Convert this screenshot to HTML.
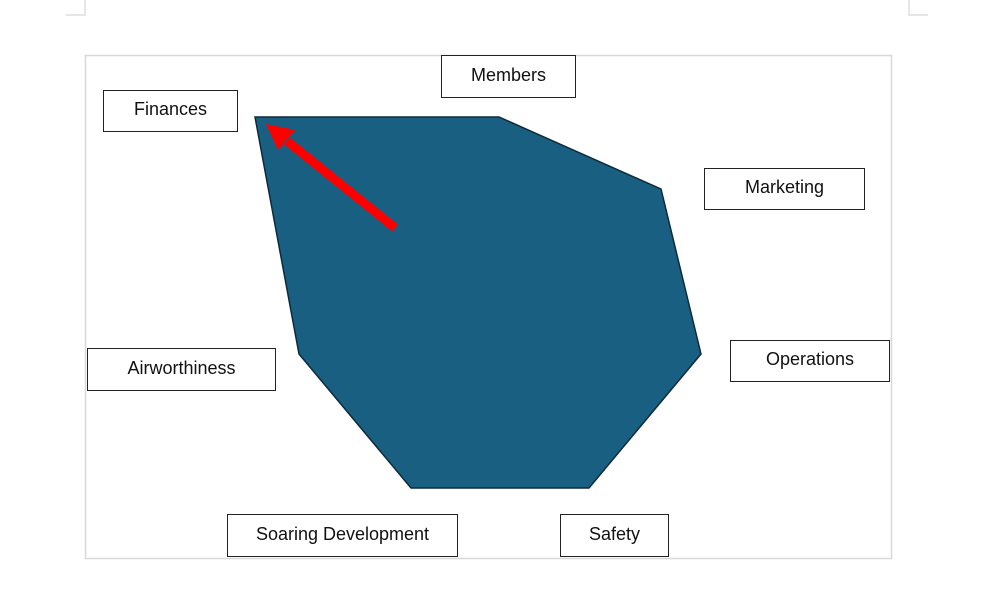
<!DOCTYPE html>
<html><head><style>
html,body{margin:0;padding:0;background:#fff;}
body{width:1000px;height:599px;position:relative;overflow:hidden;font-family:"Liberation Sans",Arial,sans-serif;}
.b{position:absolute;border:1.5px solid #222;background:#fff;box-sizing:border-box;display:flex;align-items:center;justify-content:center;font-size:18px;color:#111;padding-bottom:3px;}
</style></head><body>
<svg width="1000" height="599" style="position:absolute;left:0;top:0">
<path d="M66 15 H85 V0" fill="none" stroke="#ddd" stroke-width="1.5"/>
<path d="M928 15 H909 V0" fill="none" stroke="#ddd" stroke-width="1.5"/>
<rect x="85.5" y="55.5" width="806" height="503" fill="#fff" stroke="#d8d8d8" stroke-width="1.5"/>
<polygon points="255,117 499,117 661,189 701,354 589,488 411,488 299,354" fill="#195f82" stroke="#0e2a3a" stroke-width="1.5"/>
<line x1="395" y1="228" x2="287" y2="141" stroke="#ff0000" stroke-width="9"/>
<polygon points="266,124 278,150 295,130" fill="#ff0000"/>
</svg>
<div class="b" style="left:441px;top:55px;width:135px;height:43px">Members</div>
<div class="b" style="left:103px;top:90px;width:135px;height:42px">Finances</div>
<div class="b" style="left:704px;top:168px;width:161px;height:42px">Marketing</div>
<div class="b" style="left:730px;top:340px;width:160px;height:42px">Operations</div>
<div class="b" style="left:87px;top:348px;width:189px;height:43px">Airworthiness</div>
<div class="b" style="left:227px;top:514px;width:231px;height:43px">Soaring Development</div>
<div class="b" style="left:560px;top:514px;width:109px;height:43px">Safety</div>
</body></html>
